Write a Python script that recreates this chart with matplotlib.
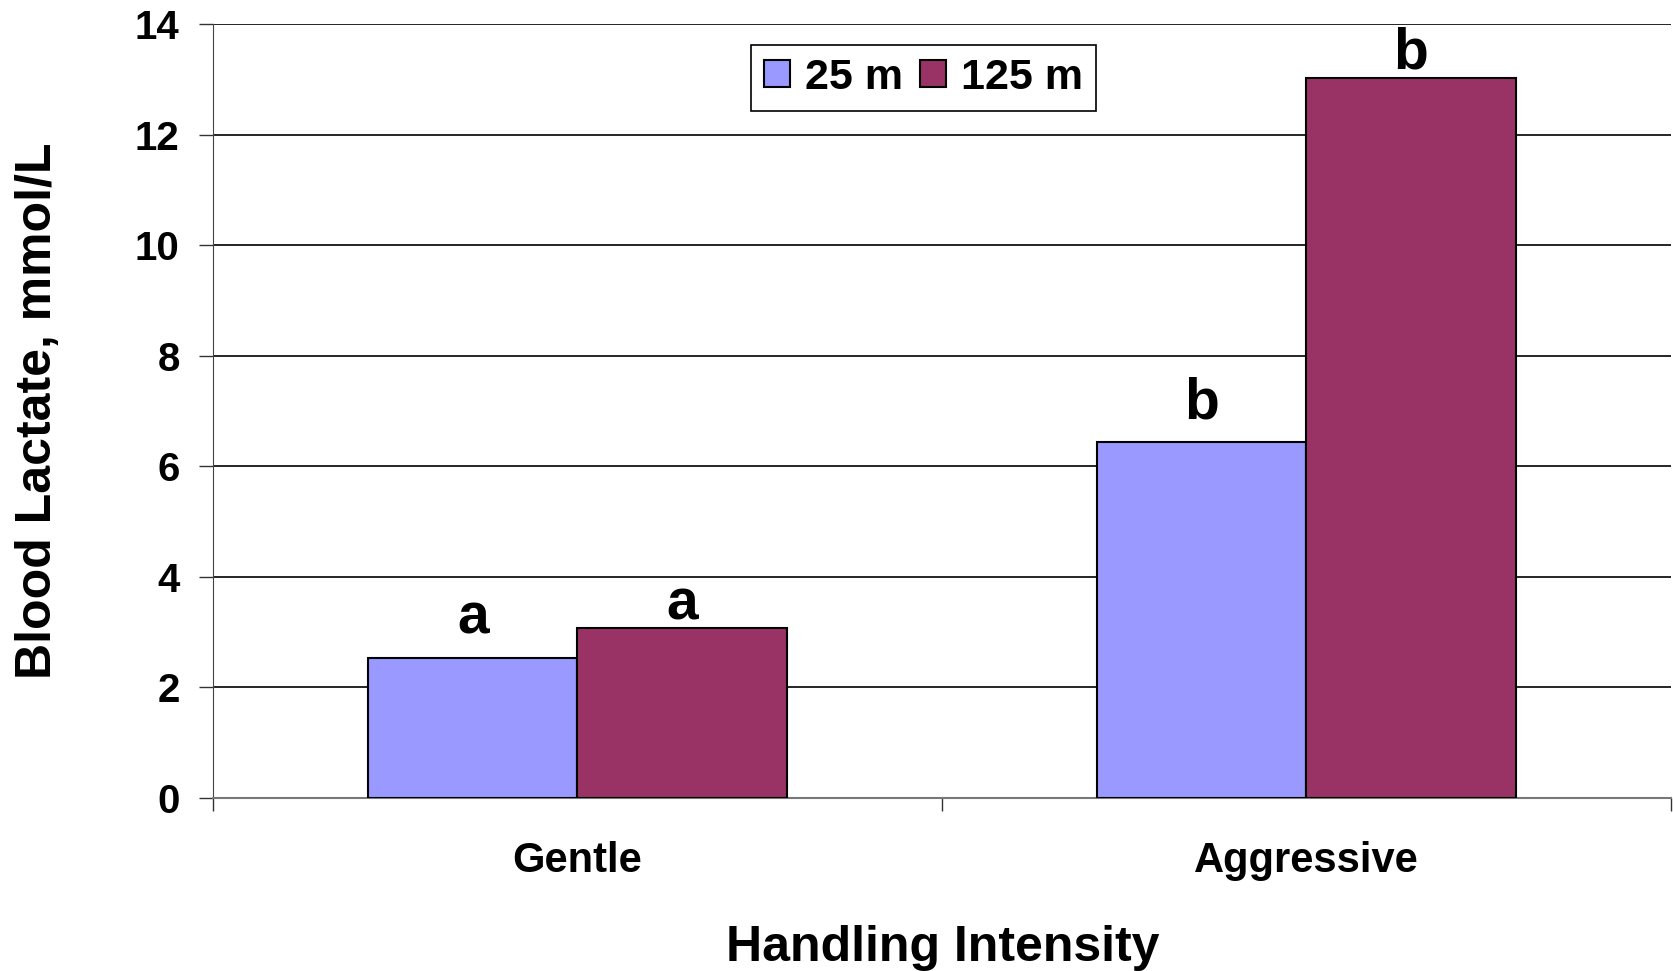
import matplotlib
matplotlib.use("Agg")
import matplotlib.pyplot as plt
import numpy as np

categories = ["Gentle", "Aggressive"]
series_names = ["25 m", "125 m"]
lactate_25m = [2.53, 6.44]
lactate_125m = [3.07, 13.02]
letters_25m = ["a", "b"]
letters_125m = ["a", "b"]
yticks = [0, 2, 4, 6, 8, 10, 12, 14]

colors = ["#9999FF", "#993366"]
plt.rcParams["font.family"] = ["Liberation Sans", "DejaVu Sans"]

fig = plt.figure(figsize=(16.73, 9.71), dpi=100)
ax = fig.add_axes([0.1273, 0.1782, 0.8715, 0.7971])

x = np.arange(len(categories))
w = 0.287
b1 = ax.bar(x - w / 2, lactate_25m, w, color=colors[0], edgecolor="black", linewidth=1.5,
            label=series_names[0], zorder=3)
b2 = ax.bar(x + w / 2, lactate_125m, w, color=colors[1], edgecolor="black", linewidth=1.5,
            label=series_names[1], zorder=3)

# significance letters above each bar
offsets_25m = [0.22, 0.21]
offsets_125m = [-0.05, -0.05]
for xi, v, t, off in zip(x - w / 2, lactate_25m, letters_25m, offsets_25m):
    ax.text(xi, v + off, t, ha="center", va="bottom", fontsize=41, fontweight="bold")
for xi, v, t, off in zip(x + w / 2, lactate_125m, letters_125m, offsets_125m):
    ax.text(xi, v + off, t, ha="center", va="bottom", fontsize=41, fontweight="bold")

ax.set_xlim(-0.5, 1.5)
ax.set_ylim(0, 14)
ax.set_yticks(yticks)
ax.set_yticklabels([str(t) for t in yticks], fontsize=29, fontweight="bold")
ax.tick_params(axis="y", length=10, width=1, pad=14, color="#333333")

ax.set_xticks(x)
ax.set_xticklabels(categories, fontsize=30, fontweight="bold")
ax.set_xticks([-0.5, 0.5, 1.5], minor=True)
ax.tick_params(axis="x", which="major", length=0, pad=31)
ax.tick_params(axis="x", which="minor", length=9, width=1, color="#333333")

ax.grid(axis="y", color="black", linewidth=1.2, zorder=0)
ax.set_axisbelow(True)
for s in ["top", "right"]:
    ax.spines[s].set_visible(False)
ax.spines["left"].set_color("#444444")
ax.spines["bottom"].set_color("#777777")
ax.spines["bottom"].set_linewidth(1.5)

ax.set_ylabel("Blood Lactate, mmol/L", fontsize=36, fontweight="bold")
ax.yaxis.set_label_coords(-0.104, 0.5)
ax.set_xlabel("Handling Intensity", fontsize=36, fontweight="bold")
ax.xaxis.set_label_coords(0.5007, -0.164)

leg = fig.legend(handles=[b1, b2], loc="upper left", bbox_to_anchor=(751 / 1673, 1 - 45 / 971),
                 ncol=2, prop={"weight": "bold", "size": 31},
                 frameon=True, fancybox=False, edgecolor="black", framealpha=1,
                 handlelength=0.6, handleheight=0.6, handletextpad=0.35,
                 columnspacing=0.4, borderpad=0.3, borderaxespad=0)
leg.get_frame().set_linewidth(1.2)

fig.savefig("out.png", dpi=100)
